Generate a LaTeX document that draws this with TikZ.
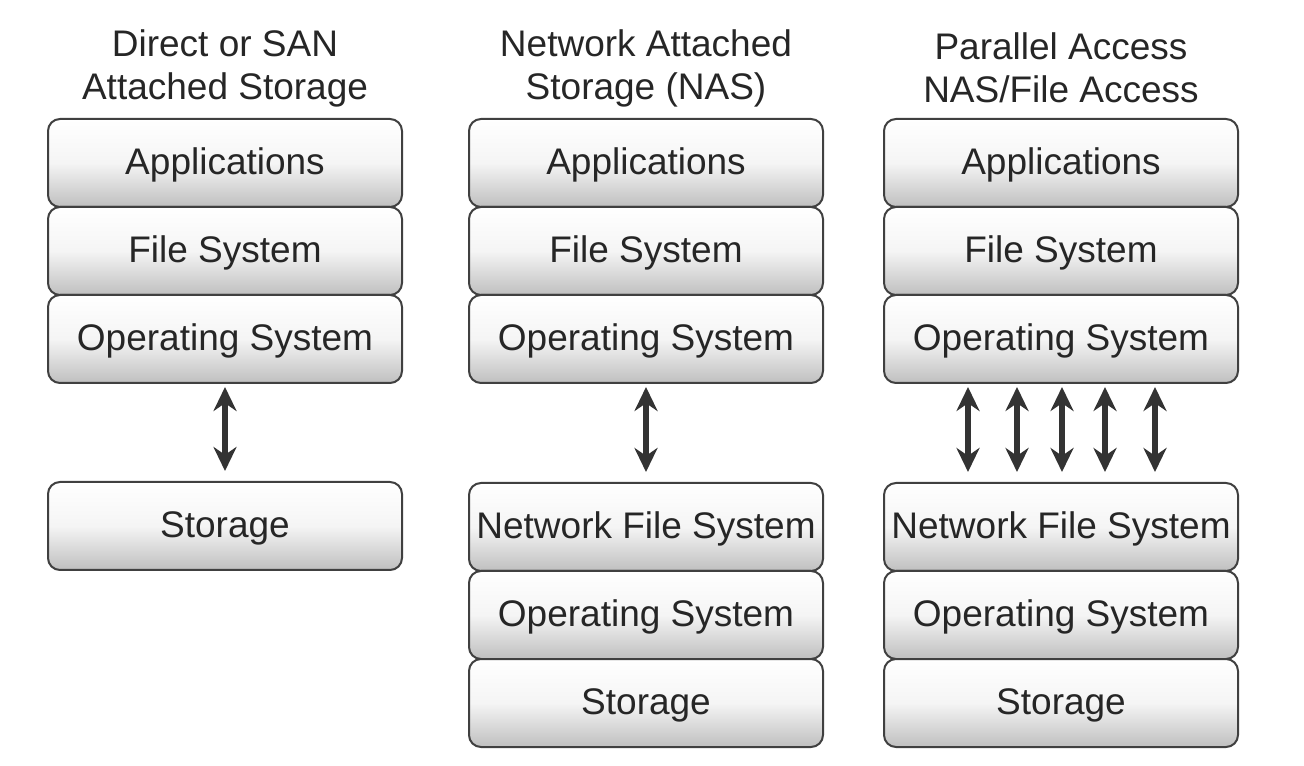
\documentclass[tikz,border=0pt]{standalone}
\usepackage{fontspec}
\setmainfont{Liberation Sans}
\usetikzlibrary{positioning,arrows.meta}

\begin{document}
\begin{tikzpicture}[x=0.5pt,y=0.5pt,node distance=-1pt,
                    layer/.style={draw=black!75,line width=1pt,rounded corners=6pt,
                      top color=white,bottom color=black!25,middle color=white!96!black,
                      minimum width=177pt,minimum height=44pt,inner sep=0pt,
                      text height=15pt,text depth=3.6pt,text=black!85,
                      font=\fontsize{18.5}{22}\selectfont},
                    title/.style={align=center,text=black!85,
                      font=\fontsize{18.5}{21.5}\selectfont},
                    link/.style={{Stealth[length=12pt,width=11.5pt]}-{Stealth[length=12pt,width=11.5pt]},
                      line width=3pt,draw=black!80,shorten <=1.5pt,shorten >=5pt}]
  \useasboundingbox (0,0) rectangle (1304,765);
  % direct or SAN attached
  \node[title] (t1) at (225,697) {Direct or SAN\\Attached Storage};
  \node[layer] (app1) at (225,602) {Applications};
  \node[layer] (fs1) [below=of app1] {File System};
  \node[layer] (os1) [below=of fs1] {Operating System};
  \node[layer] (sto1) at (225,239) {Storage};
  % NAS
  \node[title] (t2) at (646,697) {Network Attached\\Storage (NAS)};
  \node[layer] (app2) at (646,602) {Applications};
  \node[layer] (fs2) [below=of app2] {File System};
  \node[layer] (os2) [below=of fs2] {Operating System};
  \node[layer] (nfs2) at (646,238) {Network File System};
  \node[layer] (nos2) [below=of nfs2] {Operating System};
  \node[layer] (sto2) [below=of nos2] {Storage};
  % parallel access
  \node[title] (t3) at (1061,697) {Parallel Access\\NAS/File Access};
  \node[layer] (app3) at (1061,602) {Applications};
  \node[layer] (fs3) [below=of app3] {File System};
  \node[layer] (os3) [below=of fs3] {Operating System};
  \node[layer] (nfs3) at (1061,238) {Network File System};
  \node[layer] (nos3) [below=of nfs3] {Operating System};
  \node[layer] (sto3) [below=of nos3] {Storage};

  \draw[link] (os1) -- (sto1);
  \draw[link] (os2) -- (nfs2);
  \foreach \dx in {-46.5,-22,0.5,22,47}
    \draw[link] ([xshift=\dx pt]os3.south) -- ([xshift=\dx pt]nfs3.north);
\end{tikzpicture}
\end{document}
